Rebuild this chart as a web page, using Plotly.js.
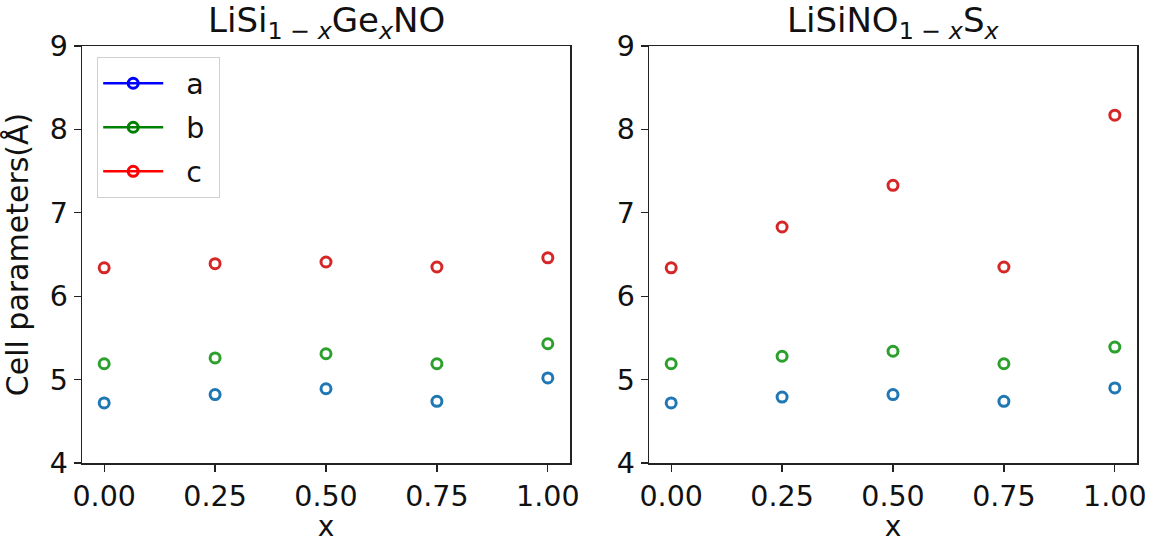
<!DOCTYPE html>
<html>
<head>
<meta charset="utf-8">
<script src="https://cdn.plot.ly/plotly-3.0.1.min.js"></script>
<style>
  html, body { margin: 0; padding: 0; background: #fff; }
  #chart { width: 1161px; height: 543px; }
</style>
</head>
<body>
<div id="chart"></div>
<script>
// Composition x for both substitution series
const xValues = [0.00, 0.25, 0.50, 0.75, 1.00];
const xTickLabels = ['0.00', '0.25', '0.50', '0.75', '1.00'];
const yTickValues = [4, 5, 6, 7, 8, 9];

// LiSi(1-x)Ge(x)NO lattice constants (Å)
const geA = [4.72, 4.82, 4.89, 4.74, 5.02];
const geB = [5.19, 5.26, 5.31, 5.19, 5.43];
const geC = [6.34, 6.39, 6.41, 6.35, 6.46];

// LiSiNO(1-x)S(x) lattice constants (Å)
const sA = [4.72, 4.79, 4.82, 4.74, 4.90];
const sB = [5.19, 5.28, 5.34, 5.19, 5.39];
const sC = [6.34, 6.83, 7.33, 6.35, 8.17];

const seriesNames = ['a', 'b', 'c'];
const pointColors = ['#1f77b4', '#2ca02c', '#d62728'];
const legendColors = ['#0000ff', '#008000', '#ff0000'];

const FONT = 'DejaVu Sans, Liberation Sans, sans-serif';
const TICK_SIZE = 28.5;
const LABEL_SIZE = 30;

function pointTrace(y, color, xa, ya) {
  return {
    x: xValues, y: y, xaxis: xa, yaxis: ya,
    type: 'scatter', mode: 'markers', showlegend: false,
    marker: { symbol: 'circle-open', size: 10, color: color, line: { width: 3, color: color } },
    hoverinfo: 'x+y'
  };
}

const traces = [];
[geA, geB, geC].forEach((y, i) => traces.push(pointTrace(y, pointColors[i], 'x', 'y')));
[sA, sB, sC].forEach((y, i) => traces.push(pointTrace(y, pointColors[i], 'x2', 'y2')));

// Legend keys: line with open marker (padded label so the text sits clear of the line)
seriesNames.forEach((name, i) => {
  traces.push({
    x: [null], y: [null], xaxis: 'x', yaxis: 'y',
    type: 'scatter', mode: 'lines+markers', name: '\u00a0\u00a0' + name + '\u00a0', showlegend: true,
    legendgroup: name,
    line: { color: legendColors[i], width: 2.5 },
    marker: { symbol: 'circle-open', size: 10, color: legendColors[i], line: { width: 3, color: legendColors[i] } }
  });
});

const xAxisBase = {
  range: [-0.05, 1.05],
  tickmode: 'array', tickvals: xValues, ticktext: xTickLabels,
  ticks: 'outside', ticklen: 7, tickwidth: 1.2, tickcolor: '#222',
  showline: true, linecolor: '#222', linewidth: 1.5, mirror: true,
  showgrid: false, zeroline: false, automargin: false,
  tickfont: { family: FONT, size: TICK_SIZE, color: '#111' },
  title: { text: 'x', font: { family: FONT, size: 28, color: '#111' }, standoff: 3 }
};
const yAxisBase = {
  range: [4, 9],
  tickmode: 'array', tickvals: yTickValues,
  ticks: 'outside', ticklen: 7, tickwidth: 1.2, tickcolor: '#222',
  showline: true, linecolor: '#222', linewidth: 1.5, mirror: true,
  showgrid: false, zeroline: false, automargin: false,
  tickfont: { family: FONT, size: TICK_SIZE, color: '#111' }
};

const yDomain = [80 / 543, 497 / 543];

const layout = {
  width: 1161, height: 543,
  margin: { l: 0, r: 0, t: 0, b: 0 },
  paper_bgcolor: '#fff', plot_bgcolor: '#fff',
  font: { family: FONT, color: '#111' },
  xaxis: Object.assign({}, xAxisBase, { domain: [82 / 1161, 570 / 1161], anchor: 'y' }),
  yaxis: Object.assign({}, yAxisBase, {
    domain: yDomain, anchor: 'x',
    title: { text: 'Cell parameters(Å)', font: { family: FONT, size: LABEL_SIZE, color: '#111' }, standoff: 14 }
  }),
  xaxis2: Object.assign({}, xAxisBase, { domain: [649 / 1161, 1137 / 1161], anchor: 'y2' }),
  yaxis2: Object.assign({}, yAxisBase, { domain: yDomain, anchor: 'x2' }),
  legend: {
    x: 97 / 1161, y: 486 / 543, xanchor: 'left', yanchor: 'top',
    bgcolor: 'rgba(255,255,255,0.8)', bordercolor: '#d0d0d0', borderwidth: 1.2,
    font: { family: FONT, size: TICK_SIZE, color: '#111' },
    itemwidth: 60, tracegroupgap: 4
  },
  annotations: [
    {
      text: 'LiSi<sub>1 − <i>x</i></sub>Ge<sub><i>x</i></sub>NO',
      xref: 'paper', yref: 'paper', x: 326 / 1161, y: 521 / 543,
      xanchor: 'center', yanchor: 'middle', showarrow: false,
      font: { family: FONT, size: 34, color: '#111' }
    },
    {
      text: 'LiSiNO<sub>1 − <i>x</i></sub>S<sub><i>x</i></sub>',
      xref: 'paper', yref: 'paper', x: 893 / 1161, y: 521 / 543,
      xanchor: 'center', yanchor: 'middle', showarrow: false,
      font: { family: FONT, size: 34, color: '#111' }
    }
  ]
};

Plotly.newPlot('chart', traces, layout, { displayModeBar: false, staticPlot: true });
</script>
</body>
</html>
